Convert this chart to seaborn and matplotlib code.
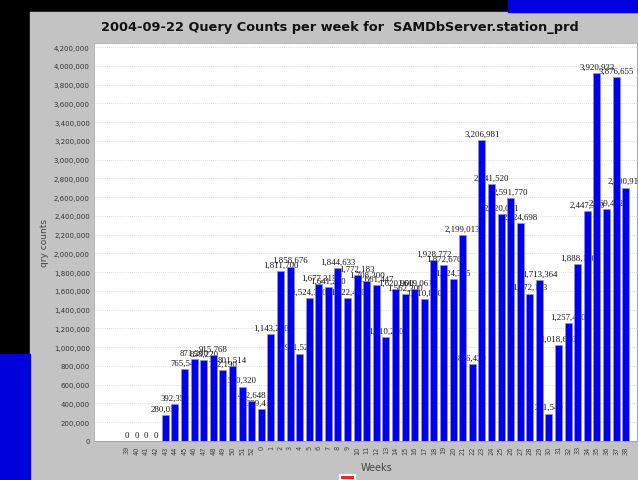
import numpy as np
import pandas as pd
import matplotlib
matplotlib.use('Agg')
import matplotlib.pyplot as plt
import matplotlib.patches as mpatches
from matplotlib.ticker import FuncFormatter, MultipleLocator
import seaborn as sns

# 数据：每周查询次数
weeks = ['39', '40', '41', '42', '43', '44', '45', '46', '47', '48', '49', '50', '51', '52',
         '0', '1', '2', '3', '4', '5', '6', '7', '8', '9', '10', '11', '12', '13', '14',
         '15', '16', '17', '18', '19', '20', '21', '22', '23', '24', '25', '26', '27', '28',
         '29', '30', '31', '32', '33', '34', '35', '36', '37', '38']
qry_counts = [0, 0, 0, 0, 280050, 392350, 765540, 871200, 858220, 915768, 752190, 801514,
              580320, 422648, 339410,
              1143200, 1811700, 1858676, 931520, 1524300, 1677315, 1641200, 1844633, 1522400,
              1772183, 1708300, 1661447, 1110250, 1620900, 1562300, 1619061, 1510800,
              1928772, 1872670, 1724355, 2199013, 816420, 3206981, 2741520, 2420051,
              2591770, 2324698, 1572113, 1713364, 291540, 1018600, 1257400, 1888150,
              2447300, 3920933, 2469492, 3876655, 2700915]

title = '2004-09-22 Query Counts per week for  SAMDbServer.station_prd'

df = pd.DataFrame({'week': weeks, 'count': qry_counts})

sns.set_style('white')
plt.rcParams['font.family'] = ['DejaVu Sans']

W, H = 638, 481
fig = plt.figure(figsize=(W / 100, H / 100), dpi=100)
fig.patch.set_facecolor('black')

# 背景：灰色面板和蓝色角块
fig.patches.append(mpatches.Rectangle((30 / W, 0), 1 - 30 / W, (H - 13) / H,
                                      transform=fig.transFigure, color='#c3c3c3', zorder=-10))
fig.patches.append(mpatches.Rectangle((508 / W, (H - 13) / H), 1, 13 / H,
                                      transform=fig.transFigure, color='#0000dd', zorder=-10))
fig.patches.append(mpatches.Rectangle((0, 0), 30 / W, 126 / H,
                                      transform=fig.transFigure, color='#0000dd', zorder=-10))
# 被截掉的图例标记
fig.patches.append(mpatches.Rectangle((340 / W, 0), 15 / W, 5 / H, transform=fig.transFigure,
                                      facecolor='#ee2222', edgecolor='white', lw=1.5, zorder=5))

ax = fig.add_axes([94 / W, (H - 442) / H, (637 - 94) / W, (442 - 44) / H])
ax.set_facecolor('white')

sns.barplot(data=df, x='week', y='count', order=weeks, color='#0000f0',
            saturation=1, width=0.73, edgecolor='#9a9aa8', linewidth=0.4, ax=ax)
for p in ax.patches:
    p.set_zorder(3)

# 数值标签（被相邻柱子遮挡）
for i, v in enumerate(qry_counts):
    ax.text(i, v + 25000, f'{v:,}', ha='center', va='bottom', fontsize=6.3,
            family=['Liberation Serif'], color='#111111', zorder=2, clip_on=True)

ax.set_xlim(-3.44, 53.18)
ax.set_ylim(0, 4243000)
ax.yaxis.set_major_locator(MultipleLocator(200000))
ax.yaxis.set_major_formatter(FuncFormatter(lambda v, _: f'{int(v):,}'))
ax.set_axisbelow(True)
ax.grid(axis='y', color='#d0d0d0', linestyle=(0, (1, 1.5)), linewidth=0.6)
ax.grid(axis='x', visible=False)

ax.tick_params(axis='y', labelsize=5, colors='#333333', length=2, width=0.5, pad=1)
ax.tick_params(axis='x', labelsize=4.8, colors='#444444', length=2, width=0.5, pad=1,
               labelrotation=90)
for s in ax.spines.values():
    s.set_color('#999999')
    s.set_linewidth(0.5)

ax.set_xlabel('Weeks', fontsize=7, color='#444444')
ax.xaxis.set_label_coords((377 - 94) / (637 - 94), -(463 - 442) / (442 - 44))
ax.set_ylabel('')
fig.text(45 / W, 1 - 243 / H, 'qry counts', rotation=90, ha='center', va='center',
         fontsize=6.5, color='#444444')

fig.text(340 / W, 1 - 27 / H, title, ha='center', va='center', fontsize=9.3,
         fontweight='bold', color='#111111')

fig.savefig('out.png', dpi=100, facecolor=fig.get_facecolor())
